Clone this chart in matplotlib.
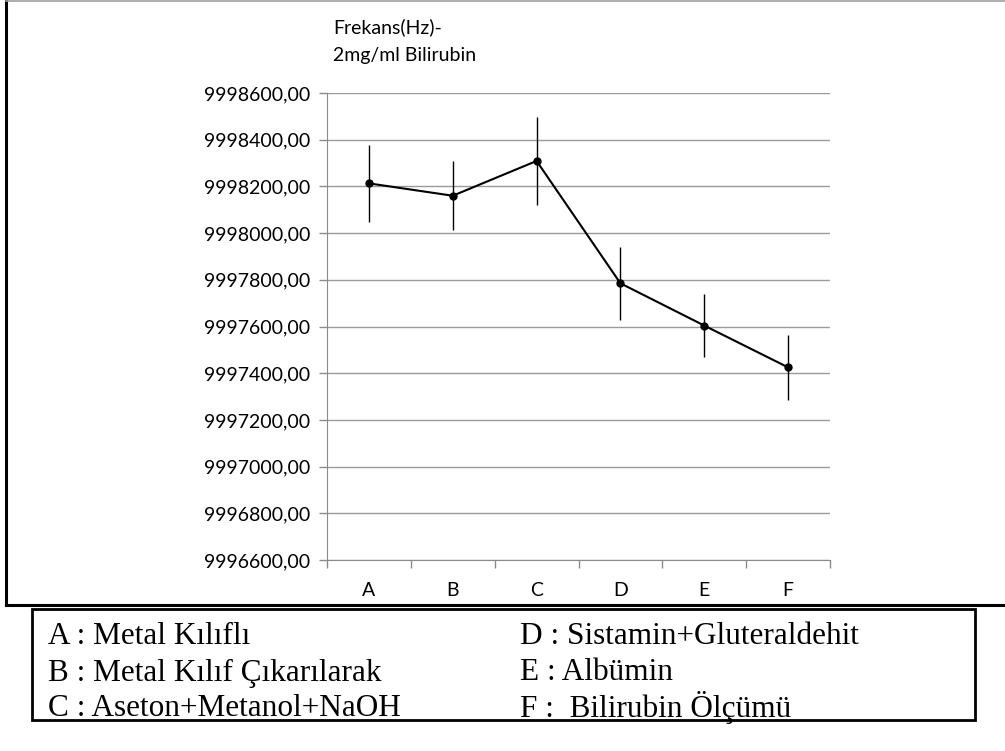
import numpy as np
import matplotlib.pyplot as plt
from matplotlib.patches import Rectangle
from matplotlib.lines import Line2D
from matplotlib.ticker import FuncFormatter, FixedLocator

# ------------------- data -------------------
categories = ["A", "B", "C", "D", "E", "F"]
freq = [9998213, 9998160, 9998309, 9997785, 9997604, 9997425]
err = [166, 147, 188, 157, 136, 140]
legend_left = ["A : Metal Kılıflı", "B : Metal Kılıf Çıkarılarak", "C : Aseton+Metanol+NaOH"]
legend_right = ["D : Sistamin+Gluteraldehit", "E : Albümin", "F :  Bilirubin Ölçümü"]

W, H = 1005, 751
fig = plt.figure(figsize=(W / 100, H / 100), dpi=100)

# ------------------- outer chart frame -------------------
fig.add_artist(Line2D([6 / W, 6 / W], [1, 1 - 605 / H], color="black", lw=2.2, transform=fig.transFigure))
fig.add_artist(Line2D([6 / W, 1], [1 - 605 / H, 1 - 605 / H], color="black", lw=2.2, transform=fig.transFigure))
fig.add_artist(Line2D([6 / W, 1], [1 - 1 / H, 1 - 1 / H], color="#a0a0a0", lw=1.2, transform=fig.transFigure))

# ------------------- axes -------------------
ax = fig.add_axes([327 / W, 1 - 560 / H, 503 / W, 467 / H])
x = np.arange(len(categories))
ax.errorbar(x, freq, yerr=err, fmt="o-", color="black", ms=5, lw=1.5,
            elinewidth=1.0, capsize=0, zorder=3)

ax.set_xlim(-0.5, len(categories) - 0.5)
ax.set_ylim(9996600, 9998600)
ax.set_yticks(np.arange(9996600, 9998601, 200))
ax.yaxis.set_major_formatter(FuncFormatter(lambda v, p: f"{v:.2f}".replace(".", ",")))
ax.grid(axis="y", color="#9a9a9a", lw=1.0)
ax.set_axisbelow(True)

ax.set_xticks(x)
ax.set_xticklabels(categories)
ax.xaxis.set_minor_locator(FixedLocator(np.arange(-0.5, len(categories), 1.0)))
ax.tick_params(axis="x", which="major", length=0, pad=22)
ax.tick_params(axis="x", which="minor", length=6, color="#8a8a8a", width=1.0)
ax.tick_params(axis="y", length=6, color="#8a8a8a", width=1.0, pad=6)
for lab in ax.get_xticklabels() + ax.get_yticklabels():
    lab.set_fontfamily("Lato")
    lab.set_fontsize(14)
for lab in ax.get_xticklabels():
    lab.set_va("center")

for s in ["top", "right"]:
    ax.spines[s].set_visible(False)
ax.spines["left"].set_color("#8a8a8a")
ax.spines["bottom"].set_color("#8a8a8a")

fig.text(333 / W, 1 - 27 / H, "Frekans(Hz)-", family="Lato", fontsize=14, va="center", ha="left")
fig.text(333 / W, 1 - 55 / H, "2mg/ml Bilirubin", family="Lato", fontsize=14, va="center", ha="left")

# ------------------- description box -------------------
fig.add_artist(Rectangle((32 / W, 1 - 720 / H), 943 / W, 111 / H, fill=False,
                         edgecolor="black", lw=2.0, transform=fig.transFigure))
rows_y = [637, 673, 708]
for txt, yy in zip(legend_left, rows_y):
    fig.text(48 / W, 1 - yy / H, txt, family="Liberation Serif", fontsize=22.5, va="center")
for txt, yy in zip(legend_right, rows_y):
    fig.text(520 / W, 1 - yy / H, txt, family="Liberation Serif", fontsize=22.5, va="center")

fig.savefig("out.png", dpi=100)
